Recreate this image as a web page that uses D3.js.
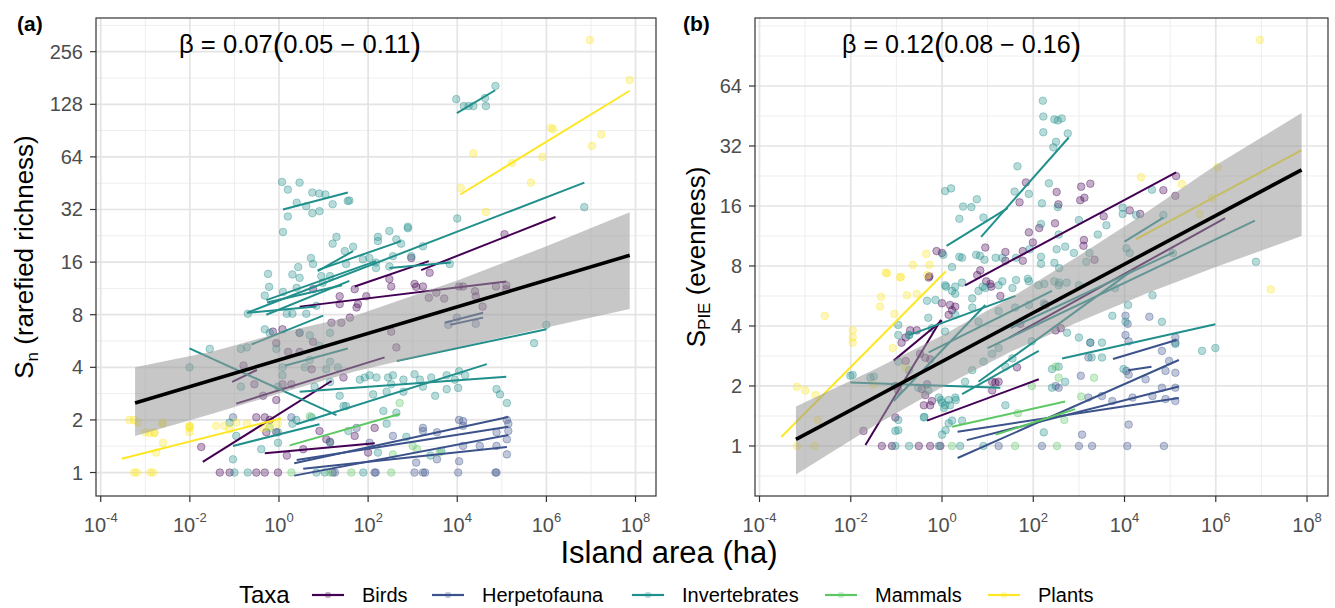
<!DOCTYPE html>
<html><head><meta charset="utf-8">
<script src="https://cdn.jsdelivr.net/npm/d3@7"></script>
<style>body{margin:0;background:#fff}svg{display:block;font-family:"Liberation Sans",Arial,Helvetica,sans-serif}</style>
</head><body><svg id="chart" width="1335" height="608"></svg>
<script>
// ---------------- DATA ----------------
const taxa = ["Birds","Herpetofauna","Invertebrates","Mammals","Plants"];
const taxaColors = ["#440154","#3B528B","#21908C","#5DC863","#FDE725"];
const xTickExps = [-4,-2,0,2,4,6,8];
const xMinorExps = [-3,-1,1,3,5,7];
const yTicksA = [1,2,4,8,16,32,64,128,256];
const yTicksB = [1,2,4,8,16,32,64];
const betaA = ["0.07","0.05","0.11"];
const betaB = ["0.12","0.08","0.16"];

// Panel (a): rarefied richness, points [area ha, Sn]
const richBirds = [[5.8,11.2],[50,11.2],[23,10.2],[59,9.2],[91,10.2],[300,12.8],[330,11.6],[930,16.9],[1100,12],[1200,11.55],[1700,11.6],[2400,13.9],[2300,10],[3400,10.7],[5100,9.9],[1.1e4,11.6],[1.35e4,11.6],[2.5e4,10.9],[2.6e4,10.2],[3.7e4,8.9],[7.4e4,11.6],[1.15e5,23.1],[1.26e5,11.8],[1.26e5,11.2],[0.018,1.4],[0.047,1],[0.078,1],[0.31,1],[0.48,1],[0.95,1],[0.31,2.07],[0.48,2.07],[0.62,2.0],[0.52,1.7],[0.87,1.7],[1.5,1.25],[3.5,1.36],[8.1,1.73],[11.5,1.55],[14,1.5],[28,3.5],[50,1.62],[100,1.3],[140,1.8],[0.73,6.4],[1.2,6.6],[2.9,6.3],[5.8,5.6],[15,7.2],[25,7.2],[39,7.7],[55,8.8],[330,6.4],[430,5.2],[23,9.2],[5.4,3.9],[1.9,3.2],[1.2,3.2],[0.28,3.2],[0.16,4.1],[0.87,5.5],[1.6,4.9],[2.9,4.9],[0.44,2.75],[0.87,2.6]];
const richHerp = [[0.093,2.07],[1.9,2.07],[55,1.8],[108,1.48],[360,1.62],[1700,1.8],[1700,1.73],[3500,1.7],[1.1e4,2.0],[1.35e4,1.97],[1.35e4,1.85],[7.6e4,1.7],[1.3e5,2.0],[1.4e5,1.9],[1.4e5,1.73],[1.35e4,1.42],[3.2e4,1.42],[1.3e5,1.55],[7.6e4,1.42],[1200,1.14],[18,1],[140,1],[1100,1],[1900,1],[1.05e4,1],[7.6e4,1],[1.1e4,1.16],[3500,1.19],[1.3e5,1.27],[6300,7.0],[9800,7.7],[2.6e4,7.1],[16,1],[148,1],[1700,1],[7.2e4,1]];
const richInvert = [[1.17,46],[1.58,41.6],[2.9,45.6],[2.5,35],[4.1,33.4],[1.58,29.2],[5.6,40],[8,39.5],[11,39],[5.6,30.5],[8.1,31.3],[16,34.3],[35,35.8],[38,36],[1.23,23.8],[19.5,22.3],[16,20.4],[30,18.5],[46,19.6],[166,22.3],[166,21.1],[300,24.1],[430,21.6],[550,20.4],[780,25.5],[1700,19.7],[5.2,16.9],[5.8,15.6],[2.7,15],[2,13.6],[2.9,13],[0.57,13.7],[0.6,11.55],[0.48,10.3],[1.23,10.8],[2.5,11.4],[8.9,13.3],[9.6,12.2],[14,13.3],[32,15.6],[76,16.6],[107,16.9],[150,15.9],[360,17.3],[150,14.8],[300,15.1],[930,17.3],[6800,15.6],[1.0e4,28.4],[9.5e3,137],[1.4e4,125],[1.8e4,125],[2.3e4,125],[4.2e4,139],[4.4e4,125],[7.2e4,163],[7.1e6,33],[780,25],[5.3e5,5.5],[1e6,7],[0.028,5.1],[0.0098,4.0],[0.2,8.1],[0.48,6.6],[0.62,6.3],[1.5,8.1],[2.0,8.1],[4.1,8.1],[6.9,9.0],[2.9,6.3],[4.9,6.1],[14,6.3],[8.1,5.3],[0.14,5.1],[0.19,5.2],[0.87,5.1],[1.2,4.0],[3.8,4.0],[4.9,4.4],[14,4.3],[21,4.0],[11.5,3.9],[0.14,3.1],[0.95,3.1],[1.2,3.6],[6.3,3.1],[14,3.3],[23,2.75],[28,2.4],[65,3.4],[84,3.5],[108,3.6],[154,3.5],[280,3.5],[360,3.6],[620,3.4],[1100,3.65],[1450,3.4],[2600,3.5],[5800,3.6],[8800,3.4],[1.1e4,3.8],[1.5e4,3.6],[7.6e4,3.0],[9.1e4,2.8],[1.3e5,2.5],[1.05e4,3.05],[5800,3.0],[3200,2.75],[1700,3.1],[620,2.9],[330,3.2],[260,2.9],[130,2.8],[32,2.4],[220,2.25],[430,2.2],[260,1.9],[0.95,1.7],[0.95,1.48],[2.45,2.0],[2.0,1.9],[5.4,2.07],[14,1.48],[36,1.73],[166,1.3],[720,1.6],[2500,1.25],[4400,1.33],[0.093,1.19],[0.11,1.62],[0.4,1.36],[0.078,1.93],[0.1,1],[0.2,1],[6.9,1],[10.6,1],[78,1]];
const richMammals = [[1.9,1],[14,1],[42,1],[330,1],[510,2.5],[1000,1.42],[1250,1.36],[360,1.27],[4.9,2.1],[0.62,1.8],[4000,1.3]];
const richPlants = [[9.5e6,298],[7.4e7,176],[1.26e6,94],[1.4e6,92],[1.7e7,86],[1.05e7,74],[2.3e4,67],[8.1e5,64],[1.7e5,59],[4.5e5,45.6],[1.2e4,42.5],[4.4e4,31],[4.4e-4,2.0],[6.8e-4,1.93],[1.0e-3,1.7],[1.6e-3,1.7],[2.5e-3,1.93],[9.8e-3,1.85],[9.8e-3,1.7],[9.8e-3,1.8],[0.039,1.85],[0.06,1.85],[0.078,1.77],[0.11,1.93],[0.19,1.9],[0.44,1.8],[0.62,1.85],[0.95,1.9],[1.75e-3,1.3],[2.5e-3,1.48],[5.6e-4,1],[6.5e-4,1],[1.3e-3,1],[1.5e-3,1],[5.6e-4,2.0],[2.4e-3,1.9],[0.01,1.83],[1.26e-3,1.68],[1.6e-3,1.68]];

// Panel (a) per-study fits: [area1, Sn1, area2, Sn2]
const richLinesBirds = [[0.0195,1.15,15.1,3.34],[0.11,2.48,234,4.56],[0.089,3.3,0.32,3.86],[0.48,1.29,141,1.47],[50,11.6,2300,16.2],[1550,14.4,1.6e6,29],[2.9,8.9,1.26e5,12.4]];
const richLinesHerp = [[2.2,1.13,1.4e5,2.08],[2.5,1.18,1.4e5,1.83],[2.2,0.96,1.4e5,1.64],[3.5,1.05,1.3e5,1.40],[5200,7.2,3.8e4,8.2],[7000,7.0,3.8e4,7.7]];
const richLinesInvert = [[1.23,32,35,40],[9.8e3,114,7.1e4,154],[0.19,8.2,7.1e6,45.6],[0.0098,5.13,19.5,2.13],[1.35,4.08,35,5.13],[0.24,5.4,9.8,7.9],[2.9,2.9,1.26e5,3.53],[2.45,1.89,4.6e4,4.17],[0.093,1.42,8.1,1.89],[440,4.35,1.0e6,6.6],[7.4,14.4,550,21.1],[0.54,9.4,26,11.8],[7.4,14.2,46,18.5],[0.52,9.7,150,16.2],[0.2,8.2,6.9,8.9],[0.52,8.0,38,12.5],[300,14.8,7200,15.9]];
const richLinesMammals = [[1.74,1.43,513,2.16]];
const richLinesPlants = [[2.95e-4,1.2,1.12,2.04],[1.17e4,39,7.4e7,153]];

// Panel (a) overall fit and confidence band
const richFitArea = [5.9e-4,7.4e7];
const richFitValue = [2.5,17.5];
const richBandArea = [5.9e-4,0.032,1,50,1e4,1e6,7.4e7];
const richBandLow = [1.62,2.17,2.83,3.78,5.2,6.77,8.63];
const richBandHigh = [4.0,4.92,6.28,7.89,12.55,19.7,30.9];

// Panel (b): evenness, points [area ha, S_PIE]
const evenBirds = [[0.76,9.5],[1,9.3],[0.53,7.1],[8.9,9.9],[24.5,9.4],[69,21],[50,16.7],[80,11.8],[135,12.4],[98,10.5],[59,9.5],[325,18.8],[355,16.3],[300,13.1],[1120,20],[1780,20.7],[1320,17.6],[1290,10.8],[1260,10.1],[2200,8.6],[3500,14.2],[1.3e4,15.2],[2.2e4,14.6],[7.1e4,19.2],[1.35e5,22.6],[1.3e5,18],[6.9,7.6],[5.9,7.2],[9.3,6.7],[12,6.3],[24.5,8.5],[59,8.5],[1070,17.1],[0.51,7.0],[1,5.2],[1.5,5.1],[1.95,5.0],[1.4,4.55],[1.66,4.8],[11.5,6.5],[19,5.66],[52,4.1],[185,5.1],[310,3.8],[400,3.9],[0.2,3.8],[0.28,3.8],[0.16,3.5],[0.13,3.3],[0.16,2.67],[0.33,2.9],[0.43,2.77],[0.55,2.72],[0.095,2.0],[0.11,1.9],[0.36,1.93],[0.43,1.8],[0.47,2.04],[0.55,1.6],[0.4,1.6],[0.6,1.68],[0.095,1.39],[0.019,1.19],[12.6,2.1],[14.8,2.08],[17.4,2.1],[12.6,1.9],[44,2.48],[0.048,1],[0.08,1],[0.31,1],[0.55,1],[0.92,1]];
const evenHerp = [[1780,3.3],[1620,2.78],[1100,2.25],[1.05e4,4.5],[1.05e4,3.6],[1.23e4,3.35],[1.3e5,3.5],[1.3e5,3.3],[6.6e4,3.0],[7.9e4,2.38],[9.5e4,2.67],[1.3e5,2.33],[1.1e4,2.38],[1.23e4,2.28],[2.9e4,2.16],[1620,1.75],[3200,1.78],[5400,1.68],[1.5e4,1.75],[4.1e4,1.78],[6.6e4,1.96],[1.3e5,1.96],[7.9e4,1.72],[1.3e5,1.68],[1.23e4,1.28],[1175,1.14],[310,2.0],[360,1.96],[17.4,1],[155,1],[1000,1],[1950,1],[7.3e4,1],[1.15e4,1],[1.17e4,4.1],[3.5e4,4.45]];
const evenInvert = [[162,54],[166,45],[290,43.5],[345,43],[420,44],[166,37.5],[570,37],[316,33.6],[275,31.5],[45,25.3],[1.17,19],[1.58,19.6],[5.8,17.3],[2.9,15.9],[4.4,15.8],[2.4,13.8],[8.1,14],[39,18.9],[80,18.4],[220,20.8],[155,16.5],[345,15.8],[148,13],[360,11.5],[325,9.7],[500,10],[780,9.3],[2600,11.5],[4000,12.8],[1000,13.6],[9100,15.7],[9100,14.6],[1.8e4,14.4],[4e4,19.3],[7.1e4,14.4],[2.4,8.9],[2.75,8.8],[5.6,9.1],[6.8,9],[8.5,8.6],[15,8.8],[21,8.8],[42,8.8],[83,9.7],[148,8.9],[148,8.2],[290,8.3],[370,7.8],[1700,9.3],[1450,8.4],[1.1e4,9.8],[1.3e4,9.3],[1.15e5,9.3],[1.07,9.1],[1.66,7.9],[1.23,6.3],[1.95,6.3],[7.8,6.3],[21,6.7],[42,6.8],[76,6.9],[175,6.5],[290,6.7],[370,6.6],[540,6.6],[7.6e6,8.4],[9.8e-3,2.25],[0.027,2.2],[0.47,5.35],[0.72,5.4],[1.17,6.4],[1.66,6.0],[2.75,6.6],[1.95,5.8],[4.6,5.5],[6.3,6.0],[8.9,6.2],[17.4,6.4],[35,6.2],[80,6.7],[130,6.4],[360,6.4],[1000,6.4],[6200,6.2],[4.1e4,5.7],[0.11,3.6],[0.19,3.6],[0.5,4.4],[0.6,3.9],[1.17,3.75],[1.95,4.55],[4.6,4.95],[6.3,4.2],[17.4,4.75],[40,4.95],[80,5.1],[170,5.2],[0.11,2.65],[0.19,2.4],[0.3,1.96],[0.5,1.9],[0.85,1.75],[1.0,1.65],[1.17,1.6],[1.5,1.6],[1.95,1.75],[3.2,2.1],[4.6,2.4],[8.1,2.65],[12.6,2.9],[17.4,3.1],[24.5,2.5],[35,2.75],[93,3.35],[257,2.43],[360,2.5],[550,3.7],[1000,3.5],[1780,3.3],[3200,3.3],[5400,4.5],[1.05e4,4.2],[1.2e4,5.1],[6.6e4,4.2],[1.3e5,3.25],[5e5,3.0],[9.8e5,3.1],[0.095,1.19],[0.4,1.39],[1.0,1.14],[1.66,1.34],[2.75,1.34],[24.5,1.6],[170,1.17],[257,1.96],[500,2.1],[1900,2.78],[3200,2.78],[9500,2.43],[0.095,1],[0.19,1],[0.85,1],[2.5,1],[8.1,1],[0.011,2.27],[0.032,2.23],[0.11,4.05],[0.19,3.6],[0.11,1.35],[0.11,1.2],[0.41,1.4],[0.95,1.7],[1.1,1.55],[1.4,1.7],[2.0,1.7],[1.4,1.3],[1.2,1.2]];
const evenMammals = [[1.66,1],[40,1],[330,1],[93,2.0],[310,2.5],[1120,1.77],[2150,2.2],[46,1.46],[480,1.35],[360,2.2]];
const evenPlants = [[0.059,7.4],[0.126,7.06],[0.23,8.1],[0.45,9.2],[0.53,8.1],[2.3e4,22.3],[1.8e5,20.6],[4.4e5,14.6],[1.1e6,25],[9.3e6,109],[1.6e7,6.1],[8.3e5,17.5],[6.6e-4,1.98],[1e-3,1.9],[1.7e-3,1.8],[2.7e-3,4.5],[0.011,3.8],[0.011,3.5],[0.011,3.3],[0.044,5.0],[0.046,5.6],[0.091,4.6],[0.083,3.1],[0.155,2.46],[6.6e-4,1],[1.6e-3,1],[0.031,2.03],[0.062,7.35],[0.12,7.0],[0.47,7.2],[0.17,5.7],[0.28,5.8],[1.9e-3,1.35]];

const evenLinesBirds = [[3.2,6.4,1.35e5,23.6],[30,3.5,1.6e6,13.9],[0.021,1.01,0.95,4.3],[0.087,2.68,1,4.26],[0.47,1.34,132,2.16]];
const evenLinesHerp = [[5600,2.73,1.38e5,3.4],[1.2e4,2.4,3.9e4,2.5],[2.2,0.87,1.55e5,2.7],[3.5,1.07,1.55e5,1.99],[2.2,1.18,1.55e5,1.74]];
const evenLinesInvert = [[7.2,11.2,600,35.3],[1.26,10.1,27.5,15.6],[9.8e-3,2.08,19,1.96],[430,2.75,9.8e5,4.08],[0.19,3.6,41,5.66],[0.51,2.95,257,6.0],[2.75,1.82,132,3.0],[6.3,2.1,1.5e4,7.6],[0.087,1.68,8.9,5.1],[10,3.1,7.2e6,13.5],[32,3.9,1.23e5,9.4],[1e4,10.6,7.1e4,14]];
const evenLinesMammals = [[1.66,1.25,500,1.67],[15,1.14,830,1.53]];
const evenLinesPlants = [[3e-4,1.11,1.2,7.5],[1.8e4,10.9,7.6e7,30.5]];

const evenFitArea = [6.3e-4,7.6e7];
const evenFitValue = [1.08,24.3];
const evenBandArea = [6.3e-4,0.032,1,32,1000,3.2e4,1e6,7.6e7];
const evenBandLow = [0.72,1.26,1.97,2.97,4.2,5.86,7.9,11.3];
const evenBandHigh = [1.58,2.41,3.58,5.54,9.0,15.0,25.6,46.8];

// ---------------- DRAW ----------------
const svg = d3.select("#chart");
svg.append("rect").attr("width",1335).attr("height",608).attr("fill","#fff");
const TOP = 18, BOTTOM = 496;

const panels = [
  {key:"a", left:96, right:656, xDom:[7.84e-5,2.88e8], yDom:[0.734,399], yTicks:yTicksA,
   points:[richBirds,richHerp,richInvert,richMammals,richPlants],
   lines:[richLinesBirds,richLinesHerp,richLinesInvert,richLinesMammals,richLinesPlants],
   fitA:richFitArea, fitV:richFitValue, bandA:richBandArea, bandLo:richBandLow, bandHi:richBandHigh,
   beta:betaA, betaX:179, betaW:242, label:"(a)", labelX:17, titleX:33, titleMain:"S", titleSub:"n", titleRest:" (rarefied richness)"},
  {key:"b", left:755, right:1328, xDom:[7.97e-5,2.88e8], yDom:[0.561,140.4], yTicks:yTicksB,
   points:[evenBirds,evenHerp,evenInvert,evenMammals,evenPlants],
   lines:[evenLinesBirds,evenLinesHerp,evenLinesInvert,evenLinesMammals,evenLinesPlants],
   fitA:evenFitArea, fitV:evenFitValue, bandA:evenBandArea, bandLo:evenBandLow, bandHi:evenBandHigh,
   beta:betaB, betaX:842, betaW:239, label:"(b)", labelX:683, titleX:705, titleMain:"S", titleSub:"PIE", titleRest:" (evenness)"}
];

panels.forEach(p => {
  const x = d3.scaleLog().base(10).domain(p.xDom).range([p.left, p.right]);
  const y = d3.scaleLog().base(2).domain(p.yDom).range([BOTTOM, TOP]);
  const g = svg.append("g");
  const clipId = "clip-" + p.key;
  svg.append("clipPath").attr("id", clipId).append("rect")
    .attr("x", p.left).attr("y", TOP).attr("width", p.right - p.left).attr("height", BOTTOM - TOP);

  const grid = g.append("g");
  const xMinor = xMinorExps.map(e => Math.pow(10, e));
  const yMajorLog = p.yTicks.map(v => Math.log2(v));
  const yMinor = d3.range(-2, 10, 0.5).map(k => Math.pow(2, k))
    .filter(v => v > p.yDom[0] && v < p.yDom[1] && !yMajorLog.includes(Math.log2(v)));
  grid.selectAll(".vmin").data(xMinor).enter().append("line")
    .attr("x1", d => x(d)).attr("x2", d => x(d)).attr("y1", TOP).attr("y2", BOTTOM)
    .attr("stroke", "#ececec").attr("stroke-width", 0.9);
  grid.selectAll(".hmin").data(yMinor).enter().append("line")
    .attr("x1", p.left).attr("x2", p.right).attr("y1", d => y(d)).attr("y2", d => y(d))
    .attr("stroke", "#ececec").attr("stroke-width", 0.9);
  const xMajor = xTickExps.map(e => Math.pow(10, e));
  grid.selectAll(".vmaj").data(xMajor).enter().append("line")
    .attr("x1", d => x(d)).attr("x2", d => x(d)).attr("y1", TOP).attr("y2", BOTTOM)
    .attr("stroke", "#e4e4e4").attr("stroke-width", 1.7);
  grid.selectAll(".hmaj").data(p.yTicks).enter().append("line")
    .attr("x1", p.left).attr("x2", p.right).attr("y1", d => y(d)).attr("y2", d => y(d))
    .attr("stroke", "#e4e4e4").attr("stroke-width", 1.7);

  const plot = g.append("g").attr("clip-path", "url(#" + clipId + ")");
  // points
  p.points.forEach((arr, ti) => {
    plot.append("g").selectAll("circle").data(arr).enter().append("circle")
      .attr("cx", d => x(d[0])).attr("cy", d => y(d[1])).attr("r", 3.8)
      .attr("fill", taxaColors[ti]).attr("fill-opacity", 0.32)
      .attr("stroke", taxaColors[ti]).attr("stroke-opacity", 0.42).attr("stroke-width", 0.9);
  });
  // per-study lines
  p.lines.forEach((arr, ti) => {
    plot.append("g").selectAll("line").data(arr).enter().append("line")
      .attr("x1", d => x(d[0])).attr("y1", d => y(d[1]))
      .attr("x2", d => x(d[2])).attr("y2", d => y(d[3]))
      .attr("stroke", taxaColors[ti]).attr("stroke-width", 2).attr("stroke-linecap", "butt");
  });
  // confidence band (semi-transparent, on top of study lines)
  const band = p.bandA.map((a, i) => ({a: a, lo: p.bandLo[i], hi: p.bandHi[i]}));
  plot.append("path").datum(band)
    .attr("d", d3.area().x(d => x(d.a)).y0(d => y(d.lo)).y1(d => y(d.hi)))
    .attr("fill", "#999999").attr("fill-opacity", 0.55);
  // overall fit
  const fit = p.fitA.map((a, i) => [a, p.fitV[i]]);
  plot.append("path").datum(fit)
    .attr("d", d3.line().x(d => x(d[0])).y(d => y(d[1])))
    .attr("stroke", "#000").attr("stroke-width", 3.6).attr("fill", "none");

  // border
  g.append("rect").attr("x", p.left).attr("y", TOP).attr("width", p.right - p.left).attr("height", BOTTOM - TOP)
    .attr("fill", "none").attr("stroke", "#333333").attr("stroke-width", 1.2);

  // x axis ticks and labels
  const xt = g.append("g");
  xt.selectAll("line").data(xTickExps).enter().append("line")
    .attr("x1", d => x(Math.pow(10, d))).attr("x2", d => x(Math.pow(10, d)))
    .attr("y1", BOTTOM).attr("y2", BOTTOM + 6).attr("stroke", "#333").attr("stroke-width", 1.2);
  const xl = xt.selectAll("text").data(xTickExps).enter().append("text")
    .attr("x", d => x(Math.pow(10, d))).attr("y", 532)
    .attr("text-anchor", "middle").attr("fill", "#4d4d4d").style("font-size", "20px");
  xl.append("tspan").text("10");
  xl.append("tspan").text(d => String(d)).style("font-size", "13px").attr("dy", -10);

  // y axis ticks and labels
  const yt = g.append("g");
  yt.selectAll("line").data(p.yTicks).enter().append("line")
    .attr("x1", p.left - 6).attr("x2", p.left).attr("y1", d => y(d)).attr("y2", d => y(d))
    .attr("stroke", "#333").attr("stroke-width", 1.2);
  yt.selectAll("text").data(p.yTicks).enter().append("text")
    .attr("x", p.left - 13).attr("y", d => y(d)).attr("dy", "0.35em")
    .attr("text-anchor", "end").attr("fill", "#4d4d4d").style("font-size", "20px")
    .text(d => d);

  // y title
  const yTitle = g.append("text")
    .attr("transform", "translate(" + p.titleX + "," + ((TOP + BOTTOM) / 2) + ") rotate(-90)")
    .attr("text-anchor", "middle").attr("fill", "#000").style("font-size", "26px");
  yTitle.append("tspan").text(p.titleMain);
  yTitle.append("tspan").text(p.titleSub).style("font-size", "17px").attr("dy", 5);
  yTitle.append("tspan").text(p.titleRest).attr("dy", -5);

  // panel label
  g.append("text").attr("x", p.labelX).attr("y", 31).style("font-size", "21px")
    .style("font-weight", "bold").attr("fill", "#000").text(p.label);

  // beta annotation
  const bt = g.append("text").attr("x", p.betaX).attr("y", 53).style("font-size", "25px")
    .attr("fill", "#000").attr("textLength", p.betaW).attr("lengthAdjust", "spacingAndGlyphs");
  bt.append("tspan").text("\u03B2 = " + p.beta[0]);
  bt.append("tspan").text("(").style("font-size", "31px").attr("dy", 2);
  bt.append("tspan").text(p.beta[1] + " \u2212 " + p.beta[2]).attr("dy", -2);
  bt.append("tspan").text(")").style("font-size", "31px").attr("dy", 2);
});

// x axis title
svg.append("text").attr("x", 669).attr("y", 563).attr("text-anchor", "middle")
  .style("font-size", "31px").attr("fill", "#000").text("Island area (ha)");

// legend
const lg = svg.append("g");
lg.append("text").attr("x", 239).attr("y", 603).style("font-size", "24px").attr("fill", "#000").text("Taxa");
const keyX = [312, 432, 632, 825, 988];
taxa.forEach((t, i) => {
  lg.append("line").attr("x1", keyX[i]).attr("x2", keyX[i] + 32).attr("y1", 595).attr("y2", 595)
    .attr("stroke", taxaColors[i]).attr("stroke-width", 2.2);
  lg.append("circle").attr("cx", keyX[i] + 16).attr("cy", 595).attr("r", 3.2)
    .attr("fill", taxaColors[i]).attr("fill-opacity", 0.3);
  lg.append("text").attr("x", keyX[i] + 50).attr("y", 602).style("font-size", "20px")
    .attr("fill", "#000").text(t);
});
</script></body></html>
